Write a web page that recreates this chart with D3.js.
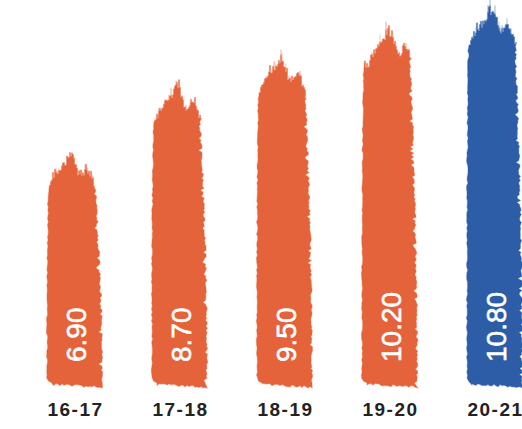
<!DOCTYPE html>
<html><head><meta charset="utf-8">
<script src="https://cdn.jsdelivr.net/npm/d3@7"></script>
<style>html,body{margin:0;padding:0;background:#fff;overflow:hidden}</style>
</head><body><svg id="c" width="522" height="429"></svg>
<script>
const categories = ["16-17","17-18","18-19","19-20","20-21"];
const values = [6.90, 8.70, 9.50, 10.20, 10.80];
const valueLabels = ["6.90","8.70","9.50","10.20","10.80"];
const highlighted = ["20-21"];

const svg = d3.select("#c");
const x = d3.scaleBand().domain(categories).range([22, 547]).paddingInner(0.476).paddingOuter(0.238);
const y = d3.scaleLinear().domain([0, 10.8]).range([396, 0]);
const baseY = 384;
const ORANGE = "#E5633A", BLUE = "#2E5DA8";

// brush-top shape (depth below the peak, fraction) across the bar width
const topShape = d3.scaleLinear()
  .domain([0, 0.08, 0.2, 0.35, 0.48, 0.55, 0.63, 0.72, 0.8, 0.88, 1])
  .range([0.85, 0.62, 0.45, 0.25, 0.05, 0.28, 0.6, 0.58, 0.42, 0.58, 0.95])
  .clamp(true);
const shift = [0, 0.03, 0, 0.08, 0.02];

function brush(i, x0, w, topY) {
  const rnd = d3.randomLcg(0.1379 * (i + 1) + 0.011);
  const u = (a, b) => a + (b - a) * rnd();
  const pts = [], spikes = [];
  const D = 40, inset = 7;
  const leftTopX = x0 + 2.5, rightTopX = x0 + w - inset;
  const prof = t => topShape(t - shift[i]);
  const shoulderL = topY + 9 + D * prof(0);
  pts.push([x0 + 5, baseY + u(-1, 1)]);
  pts.push([x0 + 1.5, baseY - 3]);
  for (let yy = baseY - 6; yy > shoulderL + 4; yy -= 3) {
    const f = (baseY - yy) / (baseY - shoulderL);
    pts.push([x0 + 1.5 * Math.pow(f, 3) + u(-0.7, 0.7), yy]);
  }
  pts.push([x0 + 2, shoulderL + 2]);
  const n = Math.round(rightTopX - leftTopX);
  for (let k = 0; k <= n; k++) {
    const t = k / n;
    let yy = topY + 9 + D * prof(t) + u(-3, 3);
    if (rnd() < 0.35) yy -= u(2, 9) * (1.2 - prof(t));
    const xx = leftTopX + k;
    pts.push([xx, yy]); pts.push([xx + 1, yy]);
    if (rnd() < 0.22) spikes.push([xx + 0.5, yy, yy - u(3, 12) * (1.1 - prof(t)), u(0.3, 0.6)]);
  }
  const shoulderR = topY + 9 + D * prof(1);
  for (let yy = shoulderR + 2; yy < baseY; yy += 2) {
    const f = (yy - shoulderR) / (baseY - shoulderR);
    let xx = x0 + w - inset * Math.pow(1 - f, 2) + u(-1, 1);
    if (rnd() < 0.12) xx -= u(1, 3);
    pts.push([xx, yy]);
  }
  pts.push([x0 + w + u(0, 1), baseY + 4]);
  for (let xx = x0 + w - 2; xx > x0 + 5; xx -= 2) {
    const f = (xx - x0) / w;
    pts.push([xx, baseY + 3 * f + u(-1.2, 1.2)]);
  }
  return {d: "M" + pts.map(p => p[0].toFixed(1) + "," + p[1].toFixed(1)).join("L") + "Z", spikes};
}

const bars = svg.append("g").selectAll("g").data(categories).join("g");
bars.each(function (c, i) {
  const col = highlighted.includes(c) ? BLUE : ORANGE;
  const b = brush(i, x(c), x.bandwidth(), y(values[i]));
  const gg = d3.select(this);
  gg.append("path").attr("d", b.d).attr("fill", col)
    .attr("stroke", col).attr("stroke-opacity", 0.35).attr("stroke-width", 1.2);
  gg.selectAll("line").data(b.spikes).join("line")
    .attr("x1", d => d[0]).attr("x2", d => d[0]).attr("y1", d => d[1]).attr("y2", d => d[2])
    .attr("stroke", col).attr("stroke-opacity", d => d[3]).attr("stroke-width", 1);
  gg.append("text")
    .attr("transform", `translate(${x(c) + x.bandwidth() / 2 + 1},362) rotate(-90)`)
    .attr("dy", "0.36em")
    .attr("fill", "#fff")
    .attr("stroke", "#fff").attr("stroke-width", 0.6)
    .attr("font-family", "'Liberation Sans', Arial, sans-serif")
    .attr("font-size", 28)
    .text(valueLabels[i]);
});

svg.append("g").selectAll("text").data(categories).join("text")
  .attr("x", d => x(d) + x.bandwidth() / 2 + 1)
  .attr("y", 416)
  .attr("text-anchor", "middle")
  .attr("font-family", "'Liberation Sans', Arial, sans-serif")
  .attr("font-weight", "bold")
  .attr("font-size", 19)
  .attr("letter-spacing", 1.5)
  .attr("fill", "#222")
  .text(d => d);
</script>
</body></html>
